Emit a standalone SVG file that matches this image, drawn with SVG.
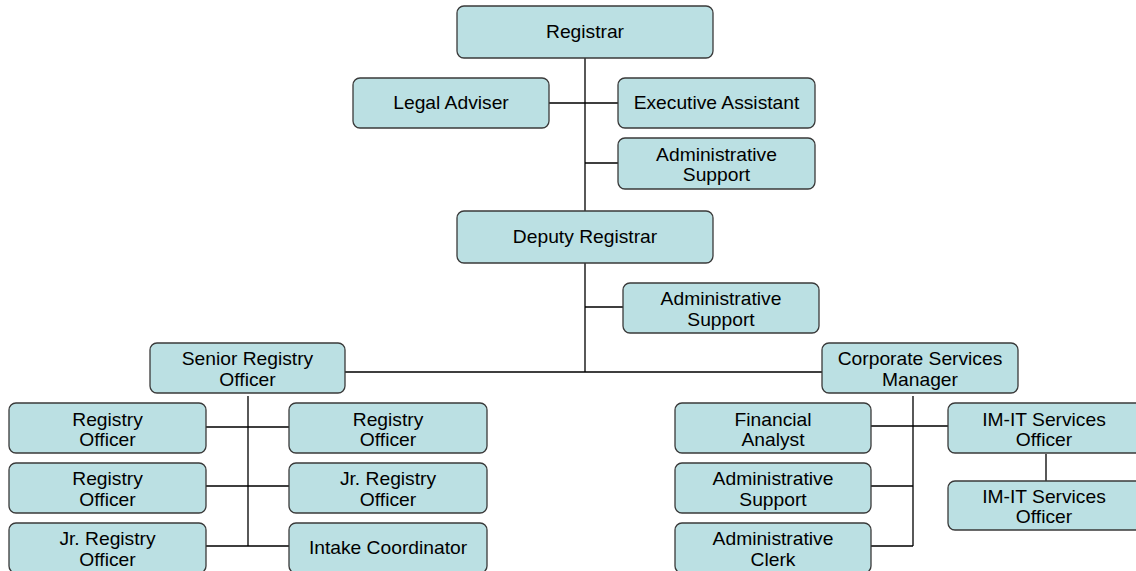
<svg xmlns="http://www.w3.org/2000/svg" width="1136" height="571" viewBox="0 0 1136 571">
<style>
.box{fill:#bbe0e3;stroke:#3a3a3a;stroke-width:1.3}
.lbl{font-family:"Liberation Sans",Arial,sans-serif;font-size:17.5px;fill:#000;text-anchor:middle}
.ln{stroke:#000;stroke-width:1.3;fill:none}
</style>
<rect width="1136" height="571" fill="#fff"/>
<g id="connectors" class="ln">
<path d="M585,58V211M549,103H618M585,163H618M585,263V372M585,307H623M345,372H822"/>
<path d="M248,396V546M206,427H289M206,486H289M206,546H289"/>
<path d="M913,396V546M871,426H948M871,486H913M871,546H913M1046,454V481"/>
</g>
<g id="registrar"><rect class="box" x="457" y="6" width="256" height="52" rx="7"/><text class="lbl" transform="matrix(1.1 0 0 1 585 0)" y="38.5">Registrar</text></g>
<g id="legal-adviser"><rect class="box" x="353" y="78" width="196" height="50" rx="7"/><text class="lbl" transform="matrix(1.1 0 0 1 451 0)" y="109">Legal Adviser</text></g>
<g id="executive-assistant"><rect class="box" x="618" y="78" width="197" height="50" rx="7"/><text class="lbl" transform="matrix(1.1 0 0 1 716.5 0)" y="109">Executive Assistant</text></g>
<g id="admin-support-1"><rect class="box" x="618" y="138" width="197" height="51" rx="7"/><text class="lbl" transform="matrix(1.1 0 0 1 716.5 0)"><tspan x="0" y="161">Administrative</tspan><tspan x="0" y="181.5">Support</tspan></text></g>
<g id="deputy-registrar"><rect class="box" x="457" y="211" width="256" height="52" rx="7"/><text class="lbl" transform="matrix(1.1 0 0 1 585 0)" y="243.5">Deputy Registrar</text></g>
<g id="admin-support-2"><rect class="box" x="623" y="283" width="196" height="50" rx="7"/><text class="lbl" transform="matrix(1.1 0 0 1 721 0)"><tspan x="0" y="305.5">Administrative</tspan><tspan x="0" y="326">Support</tspan></text></g>
<g id="senior-registry-officer"><rect class="box" x="150" y="343" width="195" height="50" rx="7"/><text class="lbl" transform="matrix(1.1 0 0 1 247.5 0)"><tspan x="0" y="365.5">Senior Registry</tspan><tspan x="0" y="386">Officer</tspan></text></g>
<g id="corporate-services-manager"><rect class="box" x="822" y="343" width="196" height="50" rx="7"/><text class="lbl" transform="matrix(1.1 0 0 1 920 0)"><tspan x="0" y="365.5">Corporate Services</tspan><tspan x="0" y="386">Manager</tspan></text></g>
<g id="registry-officer-1"><rect class="box" x="9" y="403" width="197" height="50" rx="7"/><text class="lbl" transform="matrix(1.1 0 0 1 107.5 0)"><tspan x="0" y="425.5">Registry</tspan><tspan x="0" y="446">Officer</tspan></text></g>
<g id="registry-officer-2"><rect class="box" x="289" y="403" width="198" height="50" rx="7"/><text class="lbl" transform="matrix(1.1 0 0 1 388 0)"><tspan x="0" y="425.5">Registry</tspan><tspan x="0" y="446">Officer</tspan></text></g>
<g id="registry-officer-3"><rect class="box" x="9" y="463" width="197" height="50" rx="7"/><text class="lbl" transform="matrix(1.1 0 0 1 107.5 0)"><tspan x="0" y="485.5">Registry</tspan><tspan x="0" y="506">Officer</tspan></text></g>
<g id="jr-registry-officer-1"><rect class="box" x="289" y="463" width="198" height="50" rx="7"/><text class="lbl" transform="matrix(1.1 0 0 1 388 0)"><tspan x="0" y="485.5">Jr. Registry</tspan><tspan x="0" y="506">Officer</tspan></text></g>
<g id="jr-registry-officer-2"><rect class="box" x="9" y="523" width="197" height="50" rx="7"/><text class="lbl" transform="matrix(1.1 0 0 1 107.5 0)"><tspan x="0" y="545.5">Jr. Registry</tspan><tspan x="0" y="566">Officer</tspan></text></g>
<g id="intake-coordinator"><rect class="box" x="289" y="523" width="198" height="50" rx="7"/><text class="lbl" transform="matrix(1.1 0 0 1 388 0)" y="554">Intake Coordinator</text></g>
<g id="financial-analyst"><rect class="box" x="675" y="403" width="196" height="50" rx="7"/><text class="lbl" transform="matrix(1.1 0 0 1 773 0)"><tspan x="0" y="425.5">Financial</tspan><tspan x="0" y="446">Analyst</tspan></text></g>
<g id="admin-support-3"><rect class="box" x="675" y="463" width="196" height="50" rx="7"/><text class="lbl" transform="matrix(1.1 0 0 1 773 0)"><tspan x="0" y="485.5">Administrative</tspan><tspan x="0" y="506">Support</tspan></text></g>
<g id="admin-clerk"><rect class="box" x="675" y="523" width="196" height="50" rx="7"/><text class="lbl" transform="matrix(1.1 0 0 1 773 0)"><tspan x="0" y="545.5">Administrative</tspan><tspan x="0" y="566">Clerk</tspan></text></g>
<g id="im-it-officer-1"><rect class="box" x="948" y="403" width="196" height="50" rx="7"/><text class="lbl" transform="matrix(1.1 0 0 1 1044 0)"><tspan x="0" y="425.5">IM-IT Services</tspan><tspan x="0" y="446">Officer</tspan></text></g>
<g id="im-it-officer-2"><rect class="box" x="948" y="481" width="196" height="49" rx="7"/><text class="lbl" transform="matrix(1.1 0 0 1 1044 0)"><tspan x="0" y="503">IM-IT Services</tspan><tspan x="0" y="523.5">Officer</tspan></text></g>
</svg>
